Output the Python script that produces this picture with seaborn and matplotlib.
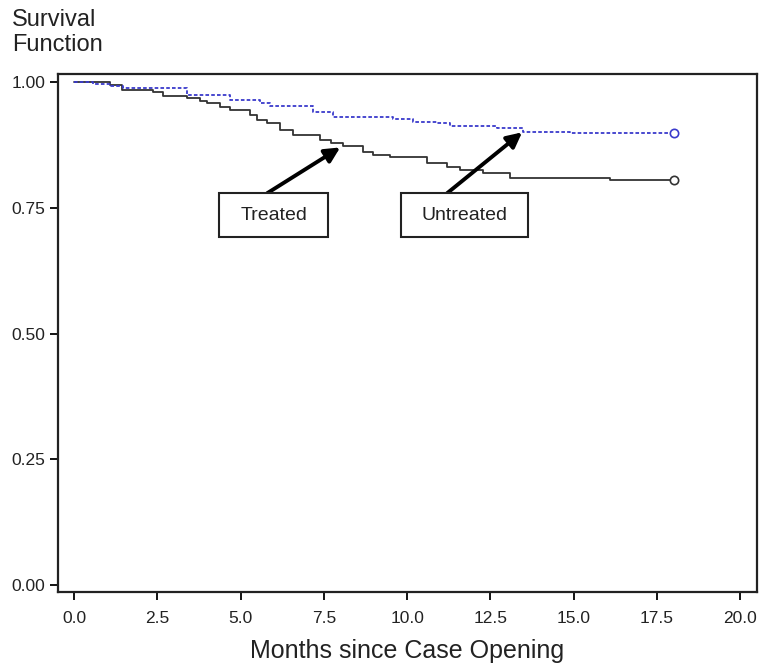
import matplotlib
matplotlib.use("Agg")
import matplotlib.pyplot as plt
import seaborn as sns
import pandas as pd
from matplotlib.patches import Rectangle

# ---- data ----
treated_time = [0.0, 1.08, 1.44, 2.37, 2.67, 3.39, 3.78, 4.0, 4.38, 4.68, 5.29, 5.5,
                5.8, 6.19, 6.58, 7.39, 7.7, 8.08, 8.68, 8.98, 9.49, 10.6, 11.2, 11.6,
                12.28, 13.1, 16.1, 18.0]
treated_surv = [1.0, 0.994, 0.985, 0.981, 0.972, 0.968, 0.963, 0.958, 0.951, 0.944, 0.934, 0.924,
                0.918, 0.904, 0.894, 0.885, 0.878, 0.872, 0.861, 0.855, 0.851, 0.839, 0.831, 0.825,
                0.819, 0.809, 0.805, 0.805]
untreated_time = [0.0, 0.57, 1.08, 1.47, 3.39, 4.68, 5.59, 5.89, 7.18, 7.78, 9.58, 10.18,
                  10.9, 11.29, 12.7, 13.48, 14.9, 18.0]
untreated_surv = [1.0, 0.996, 0.992, 0.988, 0.974, 0.964, 0.958, 0.953, 0.941, 0.931, 0.926, 0.921,
                  0.918, 0.912, 0.909, 0.901, 0.898, 0.898]
x_ticks = [0.0, 2.5, 5.0, 7.5, 10.0, 12.5, 15.0, 17.5, 20.0]
y_ticks = [0.00, 0.25, 0.50, 0.75, 1.00]
labels = ["Treated", "Untreated"]
label_boxes = [(4.35, 7.63), (9.82, 13.63)]      # box x-extent (data units)
label_y = (0.691, 0.779)                          # box y-extent (data units)
arrow_tails_x = [5.80, 11.2]
arrow_tips = [(7.99, 0.870), (13.45, 0.900)]

sns.set_style("ticks")
plt.rcParams['font.family'] = ['Liberation Sans', 'DejaVu Sans']

fig = plt.figure(figsize=(7.59, 6.64), dpi=100)
ax = fig.add_axes([58/759, 1 - 592/664, (757 - 58)/759, (592 - 74)/664])

df_t = pd.DataFrame({"time": treated_time, "surv": treated_surv})
df_u = pd.DataFrame({"time": untreated_time, "surv": untreated_surv})

sns.lineplot(data=df_t, x="time", y="surv", ax=ax, estimator=None, sort=False,
             color="#333333", lw=1.3, drawstyle="steps-post")
sns.lineplot(data=df_u, x="time", y="surv", ax=ax, estimator=None, sort=False,
             color="#3a3acc", lw=1.3, drawstyle="steps-post", dashes=False,
             linestyle=(0, (2, 1.2)))
# end-of-follow-up censor markers
ax.plot(treated_time[-1:], treated_surv[-1:], marker="o", ms=6, mfc="white",
        mec="#333333", mew=1.2, ls="none")
ax.plot(untreated_time[-1:], untreated_surv[-1:], marker="o", ms=6, mfc="white",
        mec="#3a3acc", mew=1.2, ls="none")

ax.set_xlim(-0.48, 20.5)
ax.set_ylim(-0.014, 1.016)
ax.set_xticks(x_ticks)
ax.set_xticklabels([f"{v:.1f}" for v in x_ticks])
ax.set_yticks(y_ticks)
ax.set_yticklabels([f"{v:.2f}" for v in y_ticks])
ax.tick_params(axis="both", direction="out", length=6, width=1.3, colors="black",
               labelsize=12.5, labelcolor="#222222")
ax.tick_params(axis="x", pad=8)
ax.tick_params(axis="y", pad=3)
for s in ax.spines.values():
    s.set_visible(True)
    s.set_linewidth(1.6)
    s.set_color("#222222")

ax.set_xlabel("Months since Case Opening", fontsize=18, color="#222222", labelpad=9)
ax.set_ylabel("")
fig.text(12/759, 1 - 9/664, "Survival\nFunction", ha="left", va="top",
         fontsize=17, color="#222222", linespacing=1.2)

# annotation boxes with arrows
y0, y1 = label_y
for lab, (bx0, bx1), tail_x, (tx, ty) in zip(labels, label_boxes, arrow_tails_x, arrow_tips):
    ax.add_patch(Rectangle((bx0, y0), bx1 - bx0, y1 - y0, fill=True,
                           facecolor="white", edgecolor="#222222", lw=1.5, zorder=5))
    ax.text((bx0 + bx1) / 2, (y0 + y1) / 2, lab, ha="center", va="center",
            fontsize=14, color="#222222", zorder=6)
    ax.annotate("", xy=(tx, ty), xytext=(tail_x, y1),
                arrowprops=dict(arrowstyle="-|>,head_length=0.9,head_width=0.45",
                                lw=2.8, color="black", shrinkA=0, shrinkB=0), zorder=4)

fig.savefig("out.png", dpi=100)
